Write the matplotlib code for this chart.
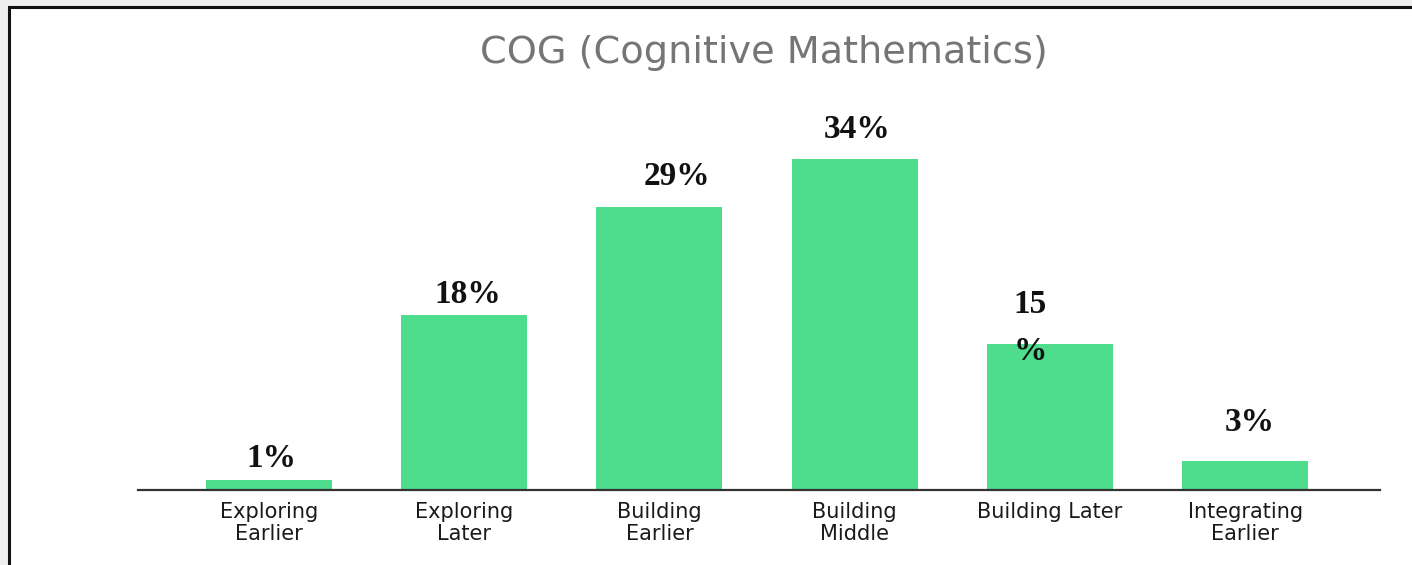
import matplotlib
matplotlib.use("Agg")
import matplotlib.pyplot as plt
from matplotlib.patches import Rectangle

# データ
categories = ["Exploring\nEarlier", "Exploring\nLater", "Building\nEarlier",
              "Building\nMiddle", "Building Later", "Integrating\nEarlier"]
values = [1, 18, 29, 34, 15, 3]
value_labels = ["1%", "18%", "29%", "34%", "15\n%", "3%"]
title = "COG (Cognitive Mathematics)"

# ラベルの位置ずれ (ピクセル)
label_dx = [3, 4, 18, 2, -20, 4]
label_dy = [22, 20, 31, 29, 16, 38]

W, H = 1412, 565
fig = plt.figure(figsize=(W / 100, H / 100), dpi=100)
fig.patch.set_facecolor("#eeeeee")

# 枠
frame = Rectangle((9 / W, -0.2), 1.2, 1.2 - 6.5 / H, transform=fig.transFigure,
                  facecolor="white", edgecolor="#111111", linewidth=2.2, zorder=-10)
fig.patches.append(frame)

ax = fig.add_axes([138 / W, 75 / H, (1380 - 138) / W, 390 / H])
ax.set_zorder(5)
ax.set_facecolor("none")
x = list(range(len(categories)))
ax.bar(x, values, width=0.645, color="#4ddd8c", zorder=2)
ax.set_xlim(-0.67, 5.69)
ax.set_ylim(0, 40)

for s in ["top", "right", "left"]:
    ax.spines[s].set_visible(False)
ax.spines["bottom"].set_color("#333333")
ax.spines["bottom"].set_linewidth(1.6)
ax.set_yticks([])
ax.set_xticks(x)
ax.set_xticklabels(categories, fontsize=15, family="DejaVu Sans", color="#1a1a1a",
                   linespacing=1.1)
ax.tick_params(axis="x", length=0, pad=9)

for i, (v, lab) in enumerate(zip(values, value_labels)):
    ax.annotate(lab, xy=(i, v), xytext=(label_dx[i] * 0.72, label_dy[i] * 0.72),
                textcoords="offset points", ha="center", va="center",
                fontsize=24, fontweight="bold", family="Liberation Serif",
                color="#111111", linespacing=1.65)

fig.text(764 / W, 1 - 53 / H, title, ha="center", va="center",
         fontsize=27.5, family="DejaVu Sans", color="#757575")

fig.savefig("out.png", dpi=100, facecolor=fig.get_facecolor())
